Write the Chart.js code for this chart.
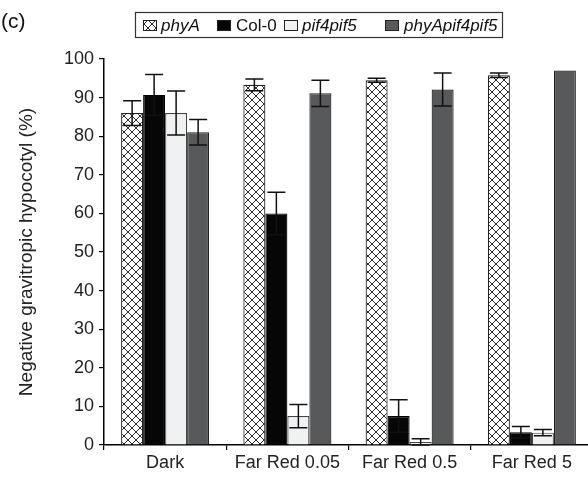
<!DOCTYPE html>
<html>
<head>
<meta charset="utf-8">
<script src="https://cdn.jsdelivr.net/npm/chart.js@4.4.1/dist/chart.umd.min.js"></script>
<style>
  html, body { margin: 0; padding: 0; background: #fff; overflow: hidden; }
  #wrap { width: 600px; height: 479px; }
</style>
</head>
<body>
<div id="wrap"><canvas id="c" width="600" height="479"></canvas></div>
<script>
// ---- data ----
const categories = ['Dark', 'Far Red 0.05', 'Far Red 0.5', 'Far Red 5'];
const seriesNames = ['phyA', 'Col-0', 'pif4pif5', 'phyApif4pif5'];
const phyA = [86, 93.3, 94.5, 95.8];
const col0 = [90.7, 60, 7.5, 3.3];
const pif4pif5 = [86, 7.5, 0.8, 3.2];
const phyApif4pif5 = [81, 91.1, 92.1, 97];
const phyAErr = [3.2, 1.5, 0.5, 0.6];
const col0Err = [5.3, 5.5, 4.2, 1.5];
const pif4pif5Err = [5.7, 3.0, 0.8, 0.8];
const phyApif4pif5Err = [3.3, 3.4, 4.3, 0];
const yTicksMin = 0, yTicksMax = 100, yTicksStep = 10;
const yTitle = 'Negative gravitropic hypocotyl (%)';
const panelLabel = '(c)';

const FONT = "'Liberation Sans', Arial, sans-serif";

function makeHatch() {
  const s = 8;
  const pc = document.createElement('canvas');
  pc.width = s; pc.height = s;
  const p = pc.getContext('2d');
  p.fillStyle = '#fff';
  p.fillRect(0, 0, s, s);
  p.strokeStyle = '#2a2a2a';
  p.lineWidth = 1;
  p.beginPath();
  p.moveTo(0, 0); p.lineTo(s, s);
  p.moveTo(0, s); p.lineTo(s, 0);
  p.stroke();
  return p.createPattern(pc, 'repeat');
}
const ctx0 = document.getElementById('c').getContext('2d');
const hatch = makeHatch();

const values = [phyA, col0, pif4pif5, phyApif4pif5];
const errs = [phyAErr, col0Err, pif4pif5Err, phyApif4pif5Err];
const fills = [hatch, '#060606', '#f0f1f3', '#58595b'];
const borders = ['#222', '#000', '#444', '#222'];
const italic = [true, false, true, true];

const datasets = seriesNames.map((n, i) => ({
  label: n,
  data: values[i],
  backgroundColor: fills[i],
  borderColor: borders[i],
  borderWidth: 1.2,
  borderSkipped: 'bottom',
  barPercentage: 1,
  categoryPercentage: 0.72
}));

const errorBars = {
  id: 'errorBars',
  afterDatasetsDraw(chart) {
    const ctx = chart.ctx;
    const ys = chart.scales.y;
    ctx.save();
    ctx.strokeStyle = '#111';
    ctx.lineWidth = 1.5;
    chart.data.datasets.forEach((ds, i) => {
      const meta = chart.getDatasetMeta(i);
      meta.data.forEach((bar, j) => {
        const v = ds.data[j], e = errs[i][j];
        if (!e) return;
        const x = bar.x;
        const yt = ys.getPixelForValue(v + e);
        const yb = ys.getPixelForValue(Math.max(0, v - e));
        const hw = 9;
        ctx.beginPath();
        ctx.moveTo(x, yt); ctx.lineTo(x, yb);
        ctx.moveTo(x - hw, yt); ctx.lineTo(x + hw, yt);
        ctx.moveTo(x - hw, yb); ctx.lineTo(x + hw, yb);
        ctx.stroke();
      });
    });
    ctx.restore();
  }
};

const legendBox = {
  id: 'legendBox',
  afterDraw(chart) {
    const ctx = chart.ctx;
    ctx.save();
    ctx.fillStyle = '#111';
    ctx.font = '21px ' + FONT;
    ctx.textBaseline = 'middle';
    ctx.textAlign = 'left';
    ctx.fillText(panelLabel, 1, 22);
    const bx = 135, by = 12, bw = 367, bh = 25;
    ctx.strokeStyle = '#333';
    ctx.lineWidth = 1.2;
    ctx.strokeRect(bx + 0.5, by + 0.5, bw, bh);
    const swX = [143, 217, 284, 385];
    const txX = [161, 236, 302, 404];
    const cy = by + bh / 2 + 0.5;
    chart.data.datasets.forEach((ds, i) => {
      ctx.fillStyle = ds.backgroundColor;
      ctx.fillRect(swX[i], cy - 5, 13, 10);
      ctx.strokeStyle = '#222';
      ctx.lineWidth = 1;
      ctx.strokeRect(swX[i] + 0.5, cy - 5 + 0.5, 13, 10);
      ctx.fillStyle = '#111';
      ctx.font = (italic[i] ? 'italic ' : '') + '17px ' + FONT;
      ctx.fillText(ds.label, txX[i], cy + 1);
    });
    ctx.restore();
  }
};

new Chart(ctx0, {
  type: 'bar',
  data: { labels: categories, datasets },
  options: {
    responsive: false,
    animation: false,
    layout: { padding: { top: 59, right: 7, left: 0, bottom: 0 } },
    plugins: { legend: { display: false }, tooltip: { enabled: false } },
    scales: {
      x: {
        grid: { display: true, drawOnChartArea: false, drawTicks: true, tickLength: 5, color: '#000', lineWidth: 1.2 },
        border: { display: true, color: '#000', width: 1.5 },
        ticks: { font: { family: FONT, size: 18 }, color: '#222', padding: 2, maxRotation: 0 },
        afterFit(s) { s.height = 34; }
      },
      y: {
        min: yTicksMin, max: yTicksMax,
        ticks: { stepSize: yTicksStep, font: { family: FONT, size: 18 }, color: '#222', padding: 5 },
        grid: { display: true, drawOnChartArea: false, drawTicks: true, tickLength: 5, color: '#000', lineWidth: 1.2 },
        border: { display: true, color: '#000', width: 1.5 },
        title: { display: true, text: yTitle, font: { family: FONT, size: 19 }, color: '#222', padding: { top: 15, bottom: 0 } },
        afterFit(s) { s.width = 104; }
      }
    }
  },
  plugins: [errorBars, legendBox]
});
</script>
</body>
</html>
